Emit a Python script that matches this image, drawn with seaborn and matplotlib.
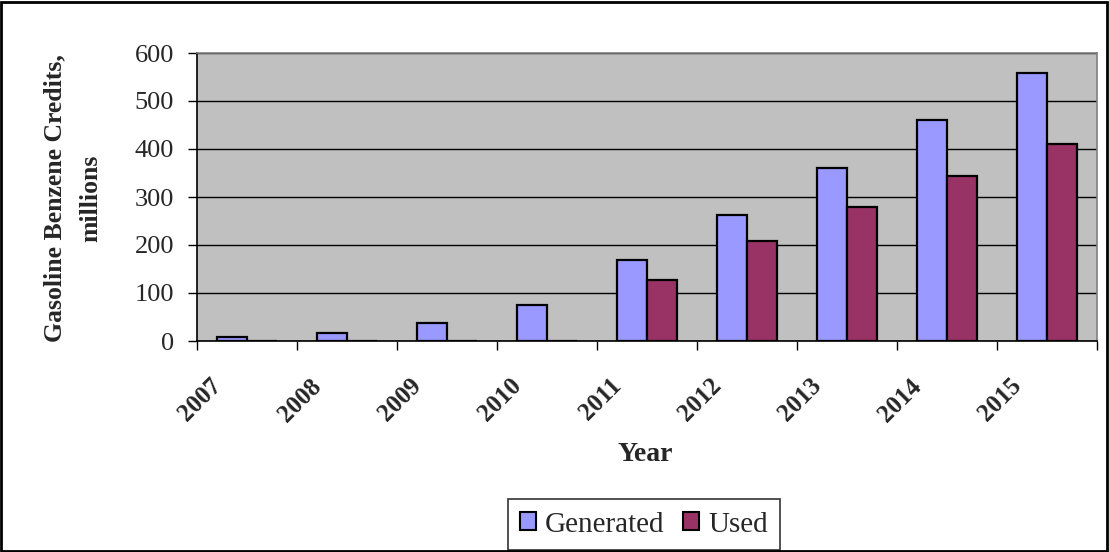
import matplotlib
matplotlib.use("Agg")
import matplotlib.pyplot as plt
import seaborn as sns
import pandas as pd
import numpy as np
from matplotlib.patches import Rectangle

years = ["2007", "2008", "2009", "2010", "2011", "2012", "2013", "2014", "2015"]
generated = [8, 17, 38, 76, 168, 263, 361, 460, 558]
used = [0, 0, 0, 0, 127, 209, 279, 344, 410]
series_names = ["Generated", "Used"]
colors = ["#9999FF", "#993366"]
yticks = [0, 100, 200, 300, 400, 500, 600]

df = pd.DataFrame({
    "Year": years * 2,
    "Credits": generated + used,
    "Series": [series_names[0]] * len(years) + [series_names[1]] * len(years),
})

sns.set_theme(style="white")
plt.rcParams["font.family"] = ["Liberation Serif", "DejaVu Serif"]

fig = plt.figure(figsize=(11.09, 5.52), dpi=100)
ax = fig.add_axes([197 / 1109, 1 - 341 / 552, 900 / 1109, 288 / 552])

sns.barplot(data=df, x="Year", y="Credits", hue="Series", order=years,
            hue_order=series_names, palette=colors, width=0.6,
            edgecolor="black", linewidth=1.6, saturation=1, ax=ax, legend=True)

ax.set_facecolor("#C0C0C0")
ax.set_ylim(0, 600)
ax.set_xlim(-0.5, len(years) - 0.5)
ax.set_yticks(yticks)
ax.set_yticklabels([str(t) for t in yticks], fontsize=19)
ax.yaxis.grid(True, color="black", linewidth=1)
ax.set_axisbelow(True)

# category labels, set slightly left of each category centre (rotated, right-anchored)
label_shift = 0.37
ax.set_xticks(np.arange(len(years)) - label_shift)
ax.set_xticklabels(years, rotation=45, ha="right", va="top", rotation_mode="anchor",
                   fontsize=18, fontweight="bold")
ax.set_xticks(np.arange(-0.5, len(years)), minor=True)
ax.tick_params(axis="x", which="major", length=0, pad=24)
ax.tick_params(axis="x", which="minor", length=6.5, width=1, color="black", direction="out", bottom=True)
ax.tick_params(axis="y", which="major", length=6.5, width=1, color="black", direction="out", left=True, pad=10)

for s in ["left", "bottom"]:
    ax.spines[s].set_color("black")
    ax.spines[s].set_linewidth(1.2)
for s in ["top", "right"]:
    ax.spines[s].set_color("#808080")
    ax.spines[s].set_linewidth(1.2)

ax.set_xlabel("Year", fontsize=20, fontweight="bold")
ax.xaxis.set_label_coords(0.498, -0.35)
ax.set_ylabel("Gasoline Benzene Credits,\nmillions", fontsize=18.5, fontweight="bold",
              linespacing=1.75)
ax.yaxis.set_label_coords(-0.105, 0.495)

leg = ax.legend(loc="center", bbox_to_anchor=(644 / 1109, 1 - 524.5 / 552),
                bbox_transform=fig.transFigure, ncol=2, frameon=True, fancybox=False,
                fontsize=21, handlelength=0.55, handleheight=0.55, handletextpad=0.3,
                columnspacing=0.65, borderpad=0.42, borderaxespad=0, edgecolor="black")
leg.get_frame().set_linewidth(1.2)
for h in leg.legend_handles:
    h.set_edgecolor("black")
    h.set_linewidth(1.5)

fig.patches.append(Rectangle((0.001, 0.002), 0.997, 0.995, transform=fig.transFigure,
                             fill=False, edgecolor="black", linewidth=2))

fig.savefig("out.png", dpi=100, facecolor="white")
